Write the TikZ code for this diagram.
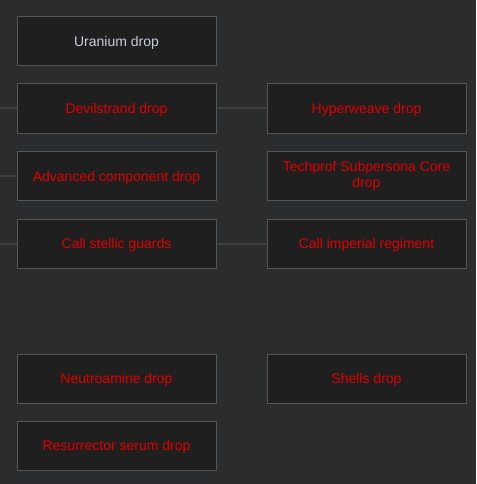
\documentclass[tikz,border=0pt]{standalone}
\usepackage{fontspec}
\setmainfont{Liberation Sans}
\usepackage{xcolor}
\usetikzlibrary{positioning}
\definecolor{bgdark}{HTML}{2B2C2E}
\definecolor{boxfill}{HTML}{1F1F1F}
\definecolor{boxline}{HTML}{555555}
\definecolor{linkline}{HTML}{3E3E3E}
\definecolor{lockred}{HTML}{E00000}
\definecolor{openblue}{HTML}{C8CCE0}
\tikzset{
  perk/.style={draw=boxline, fill=boxfill, line width=1pt, minimum width=199pt,
               minimum height=49pt, align=center, text depth=0pt,
               font=\fontsize{14}{16}\selectfont, text=lockred, inner sep=0pt},
  unlocked/.style={perk, text=openblue},
  link/.style={draw=linkline, line width=2pt}
}
\begin{document}
\begin{tikzpicture}[x=1pt, y=-1pt]
  \fill[bgdark] (0,0) rectangle (476,484);
  \useasboundingbox (0,0) rectangle (476,484);
  % left column
  \node[unlocked] (uranium) at (116.5,41) {Uranium drop};
  \node[perk] (devilstrand) at (116.5,108.5) {Devilstrand drop};
  \node[perk] (advcomp) at (116.5,176) {Advanced component drop};
  \node[perk] (stellic) at (116.5,243.5) {Call stellic guards};
  \node[perk] (neutro) at (116.5,378.5) {Neutroamine drop};
  \node[perk] (resurrector) at (116.5,445.5) {Resurrector serum drop};
  % right column
  \node[perk] (hyperweave) at (366.5,108.5) {Hyperweave drop};
  \node[perk, text depth=3pt] (techprof) at (366.5,176) {Techprof Subpersona Core\\drop};
  \node[perk] (imperial) at (366.5,243.5) {Call imperial regiment};
  \node[perk] (shells) at (366.5,378.5) {Shells drop};
  % links
  \coordinate (in2) at (0,108.5);
  \coordinate (in3) at (0,176);
  \coordinate (in4) at (0,243.5);
  \draw[link] (in2) -- (devilstrand.west);
  \draw[link] (in3) -- (advcomp.west);
  \draw[link] (in4) -- (stellic.west);
  \draw[link] (devilstrand.east) -- (hyperweave.west);
  \draw[link] (stellic.east) -- (imperial.west);
\end{tikzpicture}
\end{document}
